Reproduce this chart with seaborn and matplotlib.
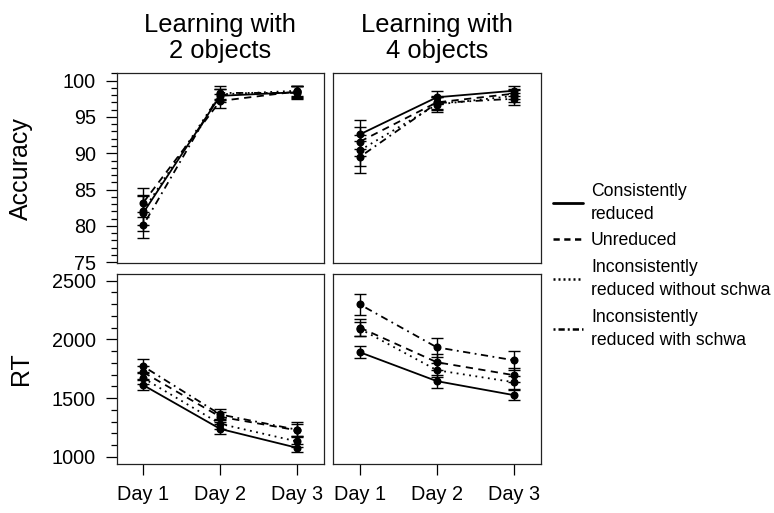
import numpy as np
import pandas as pd
import matplotlib
matplotlib.use("Agg")
import matplotlib.pyplot as plt
from matplotlib.lines import Line2D
from matplotlib.ticker import MultipleLocator
import seaborn as sns

# ── Data ──────────────────────────────────────────────────────────────
DAYS       = [1, 2, 3]
DAY_LABELS = ["Day 1", "Day 2", "Day 3"]
CONDS      = ["Consistently\nreduced", "Unreduced",
              "Inconsistently\nreduced without schwa",
              "Inconsistently\nreduced with schwa"]
PANEL_TITLES = ["Learning with\n2 objects", "Learning with\n4 objects"]

# rows = condition (CONDS order), cols = day
acc_2obj     = [[81.8, 97.9, 98.4], [83.2, 97.2, 98.5], [82.1, 98.1, 98.6], [80.1, 98.3, 98.3]]
acc_2obj_err = [[2.5, 0.9, 0.8], [2.0, 1.0, 0.8], [2.0, 0.8, 0.7], [1.8, 0.9, 0.9]]
acc_4obj     = [[92.6, 97.7, 98.6], [91.6, 97.0, 98.2], [90.4, 96.7, 97.9], [89.5, 96.9, 97.5]]
acc_4obj_err = [[2.0, 0.9, 0.7], [2.0, 0.9, 0.7], [2.1, 1.0, 0.8], [2.2, 0.9, 0.8]]
rt_2obj      = [[1610, 1237, 1076], [1720, 1340, 1225], [1670, 1280, 1130], [1770, 1360, 1230]]
rt_2obj_err  = [[45, 40, 35], [55, 45, 50], [50, 40, 45], [60, 50, 65]]
rt_4obj      = [[1890, 1644, 1525], [2100, 1805, 1695], [2090, 1737, 1635], [2297, 1932, 1822]]
rt_4obj_err  = [[50, 55, 45], [75, 70, 60], [60, 60, 55], [90, 80, 80]]

# ── Style ─────────────────────────────────────────────────────────────
sns.set_style("white")
plt.rcParams["font.family"] = ["Liberation Sans", "DejaVu Sans"]
plt.rcParams.update({"text.color": "black", "axes.labelcolor": "black",
                     "xtick.color": "black", "ytick.color": "black"})

DASHES  = {CONDS[0]: "", CONDS[1]: (4, 3), CONDS[2]: (1, 2.5), CONDS[3]: (1, 2.5, 4, 2.5)}
LEG_DASHES = {CONDS[0]: "", CONDS[1]: (2.5, 1.8), CONDS[2]: (0.8, 1.2), CONDS[3]: (0.8, 1.2, 2.5, 1.2)}
MARKERS = {c: "o" for c in CONDS}
LW = 1.3


def long_df(vals):
    rows = []
    for c, series in zip(CONDS, vals):
        for d, v in zip(DAYS, series):
            rows.append({"day": d, "value": v, "cond": c})
    return pd.DataFrame(rows)


def draw_panel(ax, vals, errs):
    df = long_df(vals)
    sns.lineplot(data=df, x="day", y="value", style="cond", style_order=CONDS,
                 dashes=DASHES, markers=MARKERS, color="black", lw=LW,
                 markersize=5.8, markeredgewidth=0, legend=False, ax=ax)
    for series, err in zip(vals, errs):
        ax.errorbar(DAYS, series, yerr=err, fmt="none", ecolor="black",
                    elinewidth=1.0, capsize=4, capthick=1.0)


fig = plt.figure(figsize=(7.74, 5.13), dpi=100)
axes = fig.subplots(2, 2, sharex=True)
fig.subplots_adjust(left=0.1508, right=0.6986, top=0.8571, bottom=0.0955,
                    wspace=0.045, hspace=0.056)

draw_panel(axes[0, 0], acc_2obj, acc_2obj_err)
draw_panel(axes[0, 1], acc_4obj, acc_4obj_err)
draw_panel(axes[1, 0], rt_2obj, rt_2obj_err)
draw_panel(axes[1, 1], rt_4obj, rt_4obj_err)

for ax in axes.flat:
    ax.set_xlim(0.655, 3.35)
    ax.set_xlabel("")
    ax.set_ylabel("")
    for s in ax.spines.values():
        s.set_linewidth(0.9)
        s.set_color("#222222")
    ax.tick_params(which="major", length=8, width=0.9, pad=7, labelsize=14.3)
    ax.tick_params(which="minor", length=4, width=0.9)

for ax in axes[0]:
    ax.set_ylim(74.85, 101.0)
for ax in axes[1]:
    ax.set_ylim(938, 2557)

axes[0, 0].yaxis.set_major_locator(MultipleLocator(5))
axes[0, 0].yaxis.set_minor_locator(MultipleLocator(1))
axes[1, 0].yaxis.set_major_locator(MultipleLocator(500))
axes[1, 0].yaxis.set_minor_locator(MultipleLocator(100))
for ax in axes[:, 0]:
    ax.tick_params(axis="y", which="both", left=True, labelleft=True)
for ax in axes[:, 1]:
    ax.tick_params(axis="y", which="both", left=False, labelleft=False)
for ax in axes[0]:
    ax.tick_params(axis="x", which="both", bottom=False, labelbottom=False)
for ax in axes[1]:
    ax.set_xticks(DAYS)
    ax.set_xticklabels(DAY_LABELS)
    ax.tick_params(axis="x", which="major", bottom=True, labelbottom=True)
    ax.tick_params(axis="x", which="minor", bottom=False)

for ax, t in zip(axes[0], PANEL_TITLES):
    ax.set_title(t, fontsize=18.4, pad=11, linespacing=1.12)

axes[0, 0].set_ylabel("Accuracy", fontsize=18)
axes[1, 0].set_ylabel("RT", fontsize=18)
axes[0, 0].yaxis.set_label_coords(-0.405, 0.5)
axes[1, 0].yaxis.set_label_coords(-0.405, 0.5)

handles = []
for c in CONDS:
    if LEG_DASHES[c] == "":
        handles.append(Line2D([0], [0], color="black", lw=2.0))
    else:
        handles.append(Line2D([0], [0], color="black", lw=1.8, dashes=LEG_DASHES[c]))
leg = fig.legend(handles, CONDS, loc="center left", bbox_to_anchor=(0.7145, 0.482),
                 frameon=False, fontsize=12.7, handlelength=1.7, handletextpad=0.45,
                 labelspacing=0.55, borderpad=0, borderaxespad=0)
for txt in leg.get_texts():
    txt.set_linespacing(1.45)

fig.savefig("out.png", dpi=100)
